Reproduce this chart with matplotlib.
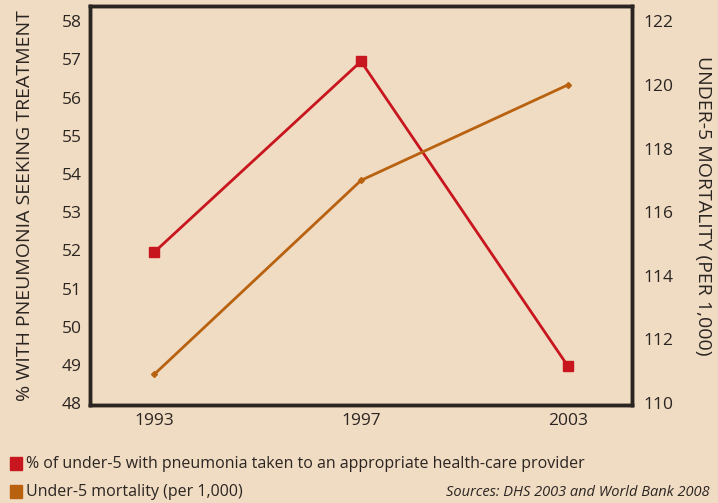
import matplotlib.pyplot as plt
from matplotlib.patches import Rectangle

plt.rcParams['font.family'] = ['Open Sans', 'DejaVu Sans']

years = ["1993", "1997", "2003"]
pneumonia_pct = [51.95, 56.95, 48.97]
mortality = [110.9, 117.0, 120.0]
left_ticks = list(range(48, 59))
right_ticks = list(range(110, 123, 2))

BG = "#f0dbc3"
RED = "#c8161e"
ORANGE = "#b8610f"
DARK = "#2b2522"

fig = plt.figure(figsize=(7.18, 5.03), dpi=100, facecolor=BG)
ax = fig.add_axes([90 / 718, 1 - 405 / 503, 542 / 718, 399 / 503])
ax.set_facecolor(BG)
x = list(range(len(years)))

ax.plot(x, pneumonia_pct, color=RED, lw=2, marker='s', ms=6.5, zorder=3)
ax.set_xlim(-0.31, 2.31)
ax.set_ylim(47.95, 58.4)
ax.set_yticks(left_ticks)
ax.set_xticks(x)
ax.set_xticklabels(years)
ax.tick_params(length=0, labelsize=12.5, colors=DARK, pad=6)
ax.set_ylabel("% WITH PNEUMONIA SEEKING TREATMENT", fontsize=14, color=DARK, labelpad=20)

ax2 = ax.twinx()
ax2.plot(x, mortality, color=ORANGE, lw=2, marker='D', ms=3, zorder=3)
ax2.set_ylim(110 - 0.05 * 12 / 10, 110 + 10.4 * 12 / 10)
ax2.set_yticks(right_ticks)
ax2.tick_params(length=0, labelsize=12.5, colors=DARK, pad=8)
ax2.set_ylabel("UNDER-5 MORTALITY (PER 1,000)", fontsize=14, color=DARK,
               rotation=270, labelpad=28)

for a in (ax, ax2):
    for s in a.spines.values():
        s.set_linewidth(2.5)
        s.set_color(DARK)

# legend
fig.patches.append(Rectangle((10 / 718, 1 - 470 / 503), 12 / 718, 13 / 503,
                             transform=fig.transFigure, color=RED))
fig.patches.append(Rectangle((10 / 718, 1 - 498 / 503), 12 / 718, 13 / 503,
                             transform=fig.transFigure, color=ORANGE))
fig.text(26 / 718, 1 - 464 / 503,
         "% of under-5 with pneumonia taken to an appropriate health-care provider",
         fontsize=11.5, color=DARK, va='center')
fig.text(26 / 718, 1 - 492 / 503, "Under-5 mortality (per 1,000)",
         fontsize=11.5, color=DARK, va='center')
fig.text(710 / 718, 1 - 493 / 503, "Sources: DHS 2003 and World Bank 2008",
         fontsize=10.5, color=DARK, va='center', ha='right', style='italic')

fig.savefig("out.png", dpi=100, facecolor=BG)
